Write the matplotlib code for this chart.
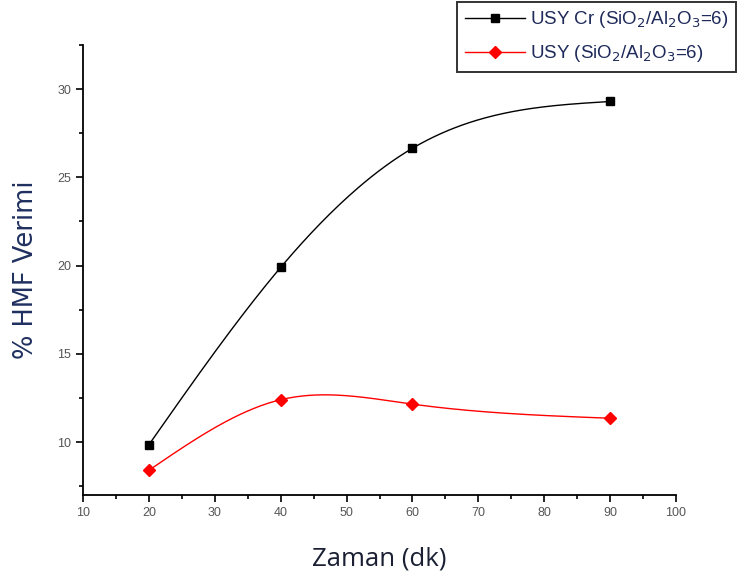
import numpy as np
import matplotlib
matplotlib.use("Agg")
import matplotlib.pyplot as plt
from matplotlib.ticker import MultipleLocator

# data
zaman = [20, 40, 60, 90]
usy_cr = [9.85, 19.9, 26.65, 29.3]
usy = [8.4, 12.4, 12.15, 11.35]

labels = ["USY Cr (SiO$_2$/Al$_2$O$_3$=6)", "USY (SiO$_2$/Al$_2$O$_3$=6)"]


def natural_spline(x, y, n=200):
    # plain natural cubic spline, like Origin's "spline" line style
    x = np.asarray(x, float)
    y = np.asarray(y, float)
    k = len(x)
    h = np.diff(x)
    A = np.zeros((k, k))
    b = np.zeros(k)
    A[0, 0] = A[-1, -1] = 1
    for i in range(1, k - 1):
        A[i, i - 1] = h[i - 1]
        A[i, i] = 2 * (h[i - 1] + h[i])
        A[i, i + 1] = h[i]
        b[i] = 6 * ((y[i + 1] - y[i]) / h[i] - (y[i] - y[i - 1]) / h[i - 1])
    M = np.linalg.solve(A, b)
    xs = np.linspace(x[0], x[-1], n)
    idx = np.clip(np.searchsorted(x, xs) - 1, 0, k - 2)
    x0, x1 = x[idx], x[idx + 1]
    hh = x1 - x0
    t0, t1 = x1 - xs, xs - x0
    ys = (M[idx] * t0 ** 3 + M[idx + 1] * t1 ** 3) / (6 * hh) \
        + (y[idx] / hh - M[idx] * hh / 6) * t0 \
        + (y[idx + 1] / hh - M[idx + 1] * hh / 6) * t1
    return xs, ys


plt.rcParams['font.family'] = ['Liberation Sans', 'DejaVu Sans']

fig = plt.figure(figsize=(7.38, 5.81), dpi=100)
ax = fig.add_axes([0.1125, 0.148, 0.8035, 0.7745])

xs, ys = natural_spline(zaman, usy_cr)
ax.plot(xs, ys, color="black", lw=1)
ax.plot(zaman, usy_cr, "s", color="black", ms=6)

xs, ys = natural_spline(zaman, usy)
ax.plot(xs, ys, color="red", lw=1)
ax.plot(zaman, usy, "D", color="red", ms=6)

# legend proxies
h1, = ax.plot([], [], "-s", color="black", lw=1, ms=6)
h2, = ax.plot([], [], "-D", color="red", lw=1, ms=6)
leg = fig.legend([h1, h2], labels, loc="upper right",
                 bbox_to_anchor=(1.0, 1.0), fontsize=13.5,
                 frameon=True, fancybox=False, handlelength=3.2,
                 borderpad=0.4, labelspacing=0.7, handletextpad=0.3,
                 borderaxespad=0.1)
leg.get_frame().set_edgecolor("black")
leg.get_frame().set_linewidth(1.4)
for t in leg.get_texts():
    t.set_color("#1e2a5a")

ax.set_xlim(10, 100)
ax.set_ylim(7, 32.5)
ax.xaxis.set_major_locator(MultipleLocator(10))
ax.xaxis.set_minor_locator(MultipleLocator(5))
ax.yaxis.set_major_locator(MultipleLocator(5))
ax.yaxis.set_minor_locator(MultipleLocator(2.5))
ax.set_yticks([10, 15, 20, 25, 30])

for s in ["top", "right"]:
    ax.spines[s].set_visible(False)
for s in ["left", "bottom"]:
    ax.spines[s].set_linewidth(1.3)

ax.tick_params(which="major", direction="out", length=5, width=1.2,
               labelsize=9, labelcolor="#555555")
ax.tick_params(which="minor", direction="out", length=3, width=1.2)

ax.set_ylabel("% HMF Verimi", fontsize=18.5, color="#1f3060", labelpad=13,
              family=["DejaVu Sans"])
ax.set_xlabel("Zaman (dk)", fontsize=18.5, color="#1a1f33", labelpad=20,
              family=["Open Sans", "DejaVu Sans"])

fig.savefig("out.png", dpi=100)
